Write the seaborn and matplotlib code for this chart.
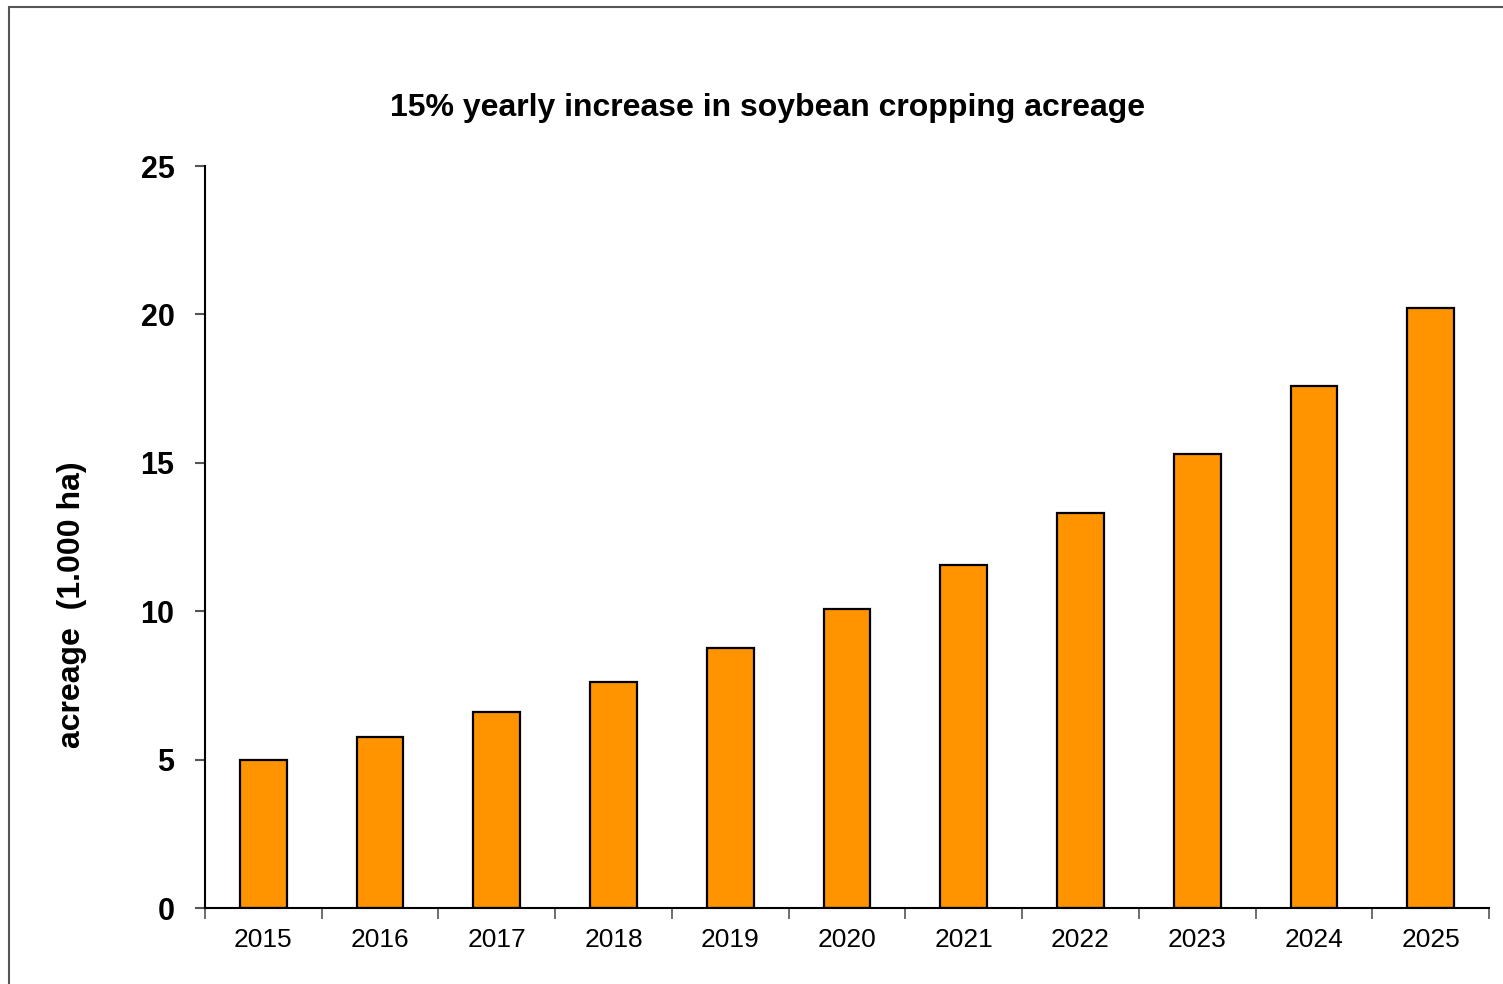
import matplotlib
matplotlib.use("Agg")
import matplotlib.pyplot as plt
import seaborn as sns
import pandas as pd
import numpy as np
from matplotlib.patches import Rectangle
from matplotlib.ticker import FixedLocator

years = ["2015", "2016", "2017", "2018", "2019", "2020",
         "2021", "2022", "2023", "2024", "2025"]
acreage = [5.00, 5.75, 6.61, 7.60, 8.75, 10.06, 11.57, 13.31, 15.30, 17.59, 20.23]
y_ticks = [0, 5, 10, 15, 20, 25]

df = pd.DataFrame({"year": years, "acreage": acreage})

sns.set_theme(style="white")
plt.rcParams["font.family"] = ["Liberation Sans", "DejaVu Sans"]
plt.rcParams["text.color"] = "black"
plt.rcParams["axes.labelcolor"] = "black"

fig = plt.figure(figsize=(15.03, 9.84), dpi=100)
ax = fig.add_axes([205 / 1503, 1 - 908 / 984, (1489 - 205) / 1503, (908 - 166) / 984])

sns.barplot(data=df, x="year", y="acreage", color="#FF9400", saturation=1,
            width=0.4, edgecolor="black", linewidth=1.6, ax=ax)

ax.set_xlim(-0.5, len(years) - 0.5)
ax.set_ylim(0, 25)
ax.set_yticks(y_ticks)
ax.set_yticklabels([str(t) for t in y_ticks], fontsize=22, fontweight="bold")
ax.set_xticks(range(len(years)))
ax.set_xticklabels(years, fontsize=19)
ax.xaxis.set_minor_locator(FixedLocator(np.arange(-0.5, len(years), 1.0)))
ax.tick_params(axis="x", which="major", length=0, pad=14.5, labelcolor="black")
ax.tick_params(axis="x", which="minor", length=8, width=1.2, color="#555555", bottom=True)
ax.tick_params(axis="y", which="major", length=7, width=1.5, color="#555555", left=True,
               pad=15, labelcolor="black")

for side in ("top", "right"):
    ax.spines[side].set_visible(False)
for side in ("left", "bottom"):
    ax.spines[side].set_color("black")
    ax.spines[side].set_linewidth(1.5)

ax.set_xlabel("")
ax.set_ylabel("")
fig.text(72 / 1503, 1 - 605 / 984, "acreage  (1.000 ha)", rotation=90,
         ha="center", va="center", fontsize=23, fontweight="bold")

fig.text(768 / 1503, 1 - 108 / 984, "15% yearly increase in soybean cropping acreage",
         ha="center", va="center", fontsize=23, fontweight="bold")

fig.patches.append(Rectangle((9 / 1503, -0.1), 1.2, 1 - 7 / 984 + 0.1,
                             transform=fig.transFigure, fill=False,
                             edgecolor="#555555", linewidth=1.5))

fig.savefig("out.png", dpi=100)
